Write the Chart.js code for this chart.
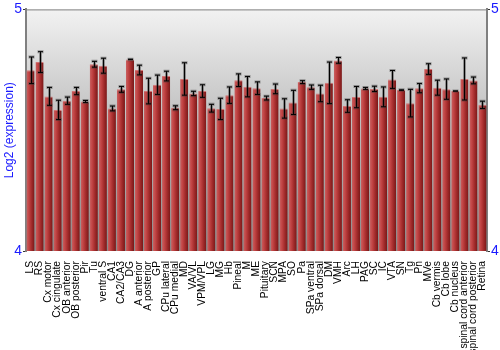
<!DOCTYPE html>
<html>
<head>
<meta charset="utf-8">
<script src="https://cdn.jsdelivr.net/npm/chart.js@4"></script>
<style>
body{margin:0;background:#fff;}
#caja{width:500px;height:350px;}
</style>
</head>
<body>
<div id="caja"><canvas id="myChart"></canvas></div>
<script>
var etiquetas = ['LS','RS','Cx motor','Cx cingulate','OB anterior','OB posterior','Pir','Tu','ventral S','CA1',
  'CA2/CA3','DG','A anterior','A posterior','GP','CPu lateral','CPu medial','MD','VA/VL','VPM/VPL',
  'LG','MG','Hb','Pineal','M','ME','Pituitary','SCN','MPA','SO',
  'Pa','SPa ventral','SPa dorsal','DM','VMH','Arc','LH','PAG','SC','IC',
  'VTA','SN','Tg','Pn','MVe','Cb vermis','Cb lobe','Cb nucleus','spinal cord anterior','spinal cord posterior',
  'Retina'];
var valores = [4.748,4.782,4.640,4.584,4.622,4.662,4.619,4.773,4.767,4.590,
  4.669,4.793,4.749,4.662,4.688,4.724,4.593,4.712,4.652,4.662,
  4.591,4.588,4.645,4.707,4.680,4.674,4.633,4.671,4.590,4.615,
  4.699,4.678,4.652,4.696,4.789,4.600,4.637,4.673,4.671,4.638,
  4.710,4.666,4.612,4.674,4.753,4.676,4.670,4.662,4.712,4.706,
  4.605];
var errores = [0.055,0.043,0.037,0.040,0.015,0.015,0.004,0.012,0.031,0.010,
  0.012,0.001,0.020,0.053,0.040,0.020,0.008,0.067,0.009,0.026,
  0.016,0.044,0.034,0.026,0.042,0.026,0.008,0.020,0.040,0.050,
  0.006,0.009,0.034,0.086,0.012,0.026,0.044,0.004,0.011,0.041,
  0.037,0.001,0.057,0.019,0.022,0.031,0.042,0.000,0.087,0.014,
  0.015];
var marcasY = [4, 5];

var azul = '#1a1aff';
Chart.defaults.font.family = 'Liberation Sans, Arial, sans-serif';

function colorBarra(context){
  var chart = context.chart;
  var area = chart.chartArea;
  if (!area || context.dataIndex === undefined) return '#b03030';
  var x = chart.scales.x.getPixelForValue(context.dataIndex);
  var w = (area.right - area.left) / etiquetas.length * 0.9;
  var g = chart.ctx.createLinearGradient(x - w/2, 0, x + w/2, 0);
  g.addColorStop(0, '#c86262');
  g.addColorStop(0.3, '#c24444');
  g.addColorStop(0.65, '#a02a2a');
  g.addColorStop(1, '#781818');
  return g;
}

// fondo gris degradado y linea de arriba
var fondo = {
  id: 'fondo',
  beforeDraw: function(chart){
    var a = chart.chartArea;
    var ctx = chart.ctx;
    var g = ctx.createLinearGradient(0, a.top, 0, a.bottom);
    g.addColorStop(0, '#f2f2f2');
    g.addColorStop(0.4, '#c6c6c6');
    g.addColorStop(1, '#8a8a8a');
    ctx.save();
    ctx.fillStyle = g;
    ctx.fillRect(a.left, a.top, a.right - a.left, a.bottom - a.top);
    ctx.restore();
  },
  afterDraw: function(chart){
    var a = chart.chartArea;
    var ctx = chart.ctx;
    ctx.save();
    ctx.strokeStyle = '#808080';
    ctx.lineWidth = 1;
    ctx.beginPath();
    ctx.moveTo(a.left, a.top + 0.5);
    ctx.lineTo(a.right, a.top + 0.5);
    ctx.stroke();
    ctx.restore();
  }
};

var barrasError = {
  id: 'barrasError',
  afterDatasetsDraw: function(chart){
    var ctx = chart.ctx;
    var meta = chart.getDatasetMeta(0);
    var y = chart.scales.y;
    ctx.save();
    meta.data.forEach(function(barra, i){
      var x = Math.round(barra.x) + 0.5;
      var arriba = y.getPixelForValue(valores[i] + errores[i]);
      var abajo = y.getPixelForValue(valores[i] - errores[i]);
      // sombra gris
      ctx.strokeStyle = 'rgba(60,60,60,0.45)';
      ctx.lineWidth = 3;
      ctx.beginPath();
      ctx.moveTo(x, arriba); ctx.lineTo(x, abajo);
      ctx.moveTo(x - 3, arriba); ctx.lineTo(x + 3, arriba);
      ctx.moveTo(x - 3, abajo); ctx.lineTo(x + 3, abajo);
      ctx.stroke();
      ctx.strokeStyle = '#000';
      ctx.lineWidth = 1;
      ctx.beginPath();
      ctx.moveTo(x, arriba); ctx.lineTo(x, abajo);
      ctx.moveTo(x - 2.5, arriba); ctx.lineTo(x + 2.5, arriba);
      ctx.moveTo(x - 2.5, abajo); ctx.lineTo(x + 2.5, abajo);
      ctx.stroke();
    });
    ctx.restore();
  }
};

var ctx = document.getElementById('myChart').getContext('2d');
var chart = new Chart(ctx, {
  type: 'bar',
  data: {
    labels: etiquetas,
    datasets: [{
      data: valores,
      backgroundColor: colorBarra,
      borderColor: '#d27474',
      borderWidth: { top: 1, left: 0, right: 0, bottom: 0 },
      borderSkipped: 'start',
      barPercentage: 0.9,
      categoryPercentage: 1.0,
      yAxisID: 'y'
    }]
  },
  options: {
    responsive: true,
    maintainAspectRatio: false,
    animation: false,
    layout: { padding: { top: 9, left: 0, right: 0, bottom: 0 } },
    plugins: { legend: { display: false }, tooltip: { enabled: false } },
    scales: {
      x: {
        grid: { display: false },
        border: { display: false },
        ticks: { autoSkip: false, maxRotation: 90, minRotation: 90, color: '#000', font: { size: 10.3 }, padding: 2 },
        afterFit: function(s){ s.height = 99; }
      },
      y: {
        min: marcasY[0], max: marcasY[1],
        afterBuildTicks: function(s){ s.ticks = marcasY.map(function(v){ return { value: v }; }); },
        ticks: { color: azul, font: { size: 14 }, padding: 1 },
        grid: { drawOnChartArea: false, tickLength: 3, color: '#333' },
        border: { color: '#808080', width: 2 },
        title: { display: true, text: 'Log2 (expression)', color: azul, font: { size: 12 }, padding: { top: 2, bottom: 0 } },
        afterFit: function(s){ s.width = 26; }
      },
      y2: {
        position: 'right',
        min: marcasY[0], max: marcasY[1],
        afterBuildTicks: function(s){ s.ticks = marcasY.map(function(v){ return { value: v }; }); },
        ticks: { color: azul, font: { size: 14 }, padding: 1 },
        grid: { drawOnChartArea: false, tickLength: 3, color: '#333' },
        border: { color: '#808080', width: 2 },
        afterFit: function(s){ s.width = 13; }
      }
    }
  },
  plugins: [fondo, barrasError]
});
</script>
</body>
</html>
